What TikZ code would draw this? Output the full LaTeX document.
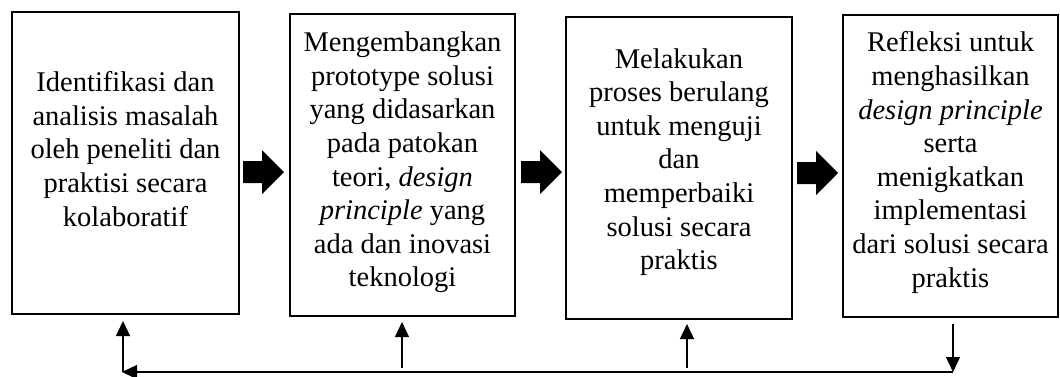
\documentclass[tikz,border=0pt]{standalone}
\usepackage{fontspec}
\setmainfont{Liberation Serif}
\usetikzlibrary{arrows.meta,calc}
\tikzset{
  box/.style={draw=black, line width=2pt, inner sep=0pt},
  txt/.style={align=center, inner sep=0pt, font=\fontsize{28.5}{33.6}\selectfont},
  conn/.style={line width=1.2pt, -{Triangle[length=15pt,width=14pt]}},
  blockarrow/.pic={\fill (0,-11) -- (19,-11) -- (19,-22) -- (41,0) -- (19,22) -- (19,11) -- (0,11) -- cycle;}
}
\begin{document}
\begin{tikzpicture}[x=1pt,y=-1pt]
\useasboundingbox (0,0) rectangle (1060,376);
% boxes
\node[box, minimum width=227pt, minimum height=302pt] (b1) at (125.5,163) {};
\node[box, minimum width=225pt, minimum height=302pt] (b2) at (402.5,165) {};
\node[box, minimum width=226pt, minimum height=302pt] (b3) at (679,168) {};
\node[box, minimum width=215pt, minimum height=302pt] (b4) at (950.5,166) {};
% texts
\node[txt] (t1) at (125.5,149) {Identifikasi dan\\analisis masalah\\oleh peneliti dan\\praktisi secara\\kolaboratif};
\node[txt] (t2) at (402.5,162.5) {Mengembangkan\\prototype solusi\\yang didasarkan\\pada patokan\\teori, \textit{design}\\\textit{principle} yang\\ada dan inovasi\\teknologi};
\node[txt] (t3) at (679,162) {Melakukan\\proses berulang\\untuk menguji\\dan\\memperbaiki\\solusi secara\\praktis};
\node[txt] (t4) at (950.5,162.5) {Refleksi untuk\\menghasilkan\\\textit{design principle}\\serta\\menigkatkan\\implementasi\\dari solusi secara\\praktis};
% block arrows
\pic at (243,172) {blockarrow};
\pic at (521,172) {blockarrow};
\pic at (797,173) {blockarrow};
% feedback loop
\coordinate (r1) at (123,372);
\coordinate (r2) at (402,368);
\coordinate (r3) at (687,368);
\coordinate (r4) at (953,372);
\draw[conn] (r1) -- ($(r1 |- b1.south)+(0,6)$);
\draw[conn] (r2) -- ($(r2 |- b2.south)+(0,5)$);
\draw[conn] (r3) -- ($(r3 |- b3.south)+(0,4)$);
\draw[conn] ($(r4 |- b4.south)+(0,6)$) -- (r4);
\draw[conn] (r4) -- ($(r1)+(-1,0)$);
\end{tikzpicture}
\end{document}
